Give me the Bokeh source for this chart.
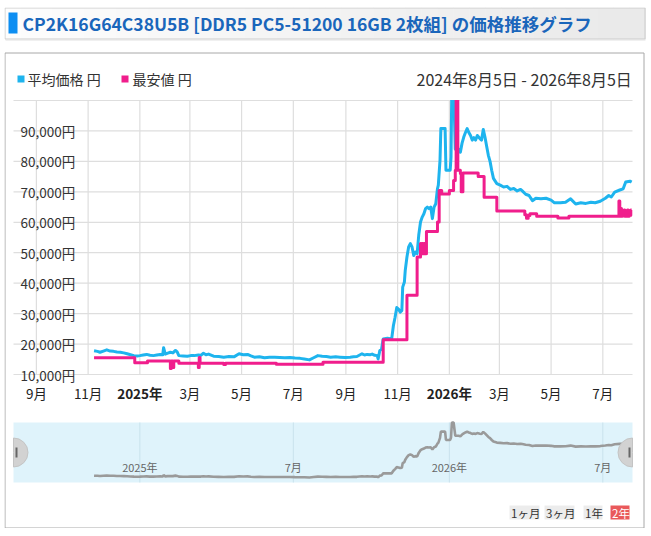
import numpy as np
import pandas as pd
from bokeh.plotting import figure
from bokeh.layouts import column
from bokeh.models import Range1d, ColumnDataSource
from bokeh.core.properties import value
from bokeh.embed import file_html
from bokeh.resources import INLINE

# ---------------- data ----------------
TITLE = "CP2K16G64C38U5B [DDR5 PC5-51200 16GB 2枚組] の価格推移グラフ"
SERIES_NAMES = ["平均価格 円", "最安値 円"]
DATE_RANGE_TEXT = "2024年8月5日 - 2026年8月5日"
RANGE_START = "2024-08-05"
RANGE_END = "2026-08-05"

avg_dates = [
    "2024-11-08", "2024-11-12", "2024-11-15", "2024-11-19", "2024-11-23", "2024-11-27",
    "2024-12-01", "2024-12-05", "2024-12-09", "2024-12-13", "2024-12-17", "2024-12-21",
    "2024-12-25", "2024-12-29", "2025-01-01", "2025-01-05", "2025-01-09", "2025-01-13",
    "2025-01-17", "2025-01-21", "2025-01-25", "2025-01-28", "2025-01-29", "2025-01-31",
    "2025-02-03", "2025-02-06", "2025-02-09", "2025-02-12", "2025-02-14", "2025-02-16",
    "2025-02-21", "2025-02-26", "2025-03-02", "2025-03-06", "2025-03-11", "2025-03-14",
    "2025-03-17", "2025-03-20", "2025-03-23", "2025-03-29", "2025-04-04", "2025-04-10",
    "2025-04-16", "2025-04-22", "2025-04-28", "2025-05-03", "2025-05-08", "2025-05-12",
    "2025-05-16", "2025-05-22", "2025-05-28", "2025-06-03", "2025-06-09", "2025-06-15",
    "2025-06-21", "2025-06-27", "2025-07-03", "2025-07-09", "2025-07-14", "2025-07-20",
    "2025-07-25", "2025-07-30", "2025-08-04", "2025-08-09", "2025-08-14", "2025-08-20",
    "2025-08-25", "2025-08-31", "2025-09-06", "2025-09-10", "2025-09-14", "2025-09-20",
    "2025-09-23", "2025-09-26", "2025-09-30", "2025-10-02", "2025-10-05", "2025-10-08",
    "2025-10-09", "2025-10-11", "2025-10-13", "2025-10-15", "2025-10-20", "2025-10-25",
    "2025-10-27", "2025-10-29", "2025-10-31", "2025-11-02", "2025-11-04", "2025-11-06",
    "2025-11-07", "2025-11-09", "2025-11-10", "2025-11-12", "2025-11-14", "2025-11-16",
    "2025-11-18", "2025-11-20", "2025-11-22", "2025-11-24", "2025-11-26", "2025-11-28",
    "2025-11-30", "2025-12-02", "2025-12-04", "2025-12-06", "2025-12-08", "2025-12-10",
    "2025-12-12", "2025-12-14", "2025-12-16", "2025-12-18", "2025-12-19", "2025-12-21",
    "2025-12-22", "2025-12-27", "2025-12-28", "2026-01-02", "2026-01-03", "2026-01-04",
    "2026-01-06", "2026-01-08", "2026-01-12", "2026-01-14", "2026-01-16", "2026-01-18",
    "2026-01-20", "2026-01-22", "2026-01-24", "2026-01-26", "2026-01-28", "2026-01-30",
    "2026-02-01", "2026-02-03", "2026-02-06", "2026-02-08", "2026-02-10", "2026-02-12",
    "2026-02-14", "2026-02-16", "2026-02-18", "2026-02-20", "2026-02-22", "2026-02-26",
    "2026-03-02", "2026-03-06", "2026-03-10", "2026-03-14", "2026-03-18", "2026-03-22",
    "2026-03-26", "2026-03-28", "2026-04-01", "2026-04-05", "2026-04-09", "2026-04-13",
    "2026-04-19", "2026-04-25", "2026-05-01", "2026-05-05", "2026-05-12", "2026-05-18",
    "2026-05-24", "2026-05-30", "2026-06-05", "2026-06-11", "2026-06-17", "2026-06-22",
    "2026-06-28", "2026-07-04", "2026-07-08", "2026-07-11", "2026-07-15", "2026-07-21",
    "2026-07-25", "2026-07-28", "2026-08-02", "2026-08-04",
]
avg_values = [
    17800, 17600, 17300, 17700, 18100, 17700,
    17600, 17400, 17300, 17100, 16800, 16500,
    16200, 16100, 16200, 16400, 16600, 16300,
    16200, 16400, 16600, 16500, 18800, 16700,
    17000, 17300, 17100, 17900, 17400, 16200,
    16100, 16000, 16200, 16200, 16400, 16300,
    17000, 16500, 16700, 16000, 15900, 15700,
    15900, 15800, 16800, 16500, 16600, 16100,
    15700, 15800, 15500, 15700, 15700, 15600,
    15500, 15600, 15400, 15300, 15100, 14800,
    15500, 16200, 16000, 15900, 15700, 15800,
    15700, 15600, 15700, 15800, 15900, 16800,
    16400, 16600, 16500, 16700, 16300, 16200,
    15100, 17900, 18200, 21700, 21900, 21700,
    26000, 28800, 32000, 31500, 30500, 31000,
    38700, 40400, 44200, 48600, 51900, 53000,
    51900, 49100, 50200, 49700, 56000, 60100,
    61700, 62800, 64500, 65000, 64500, 65000,
    61200, 65000, 66100, 71000, 72200, 80400,
    90800, 90800, 77100, 77100, 81500, 106000,
    106000, 84000, 84000, 83000, 86000, 88000,
    89500, 90800, 89500, 88500, 87000, 87800,
    87000, 88500, 87500, 87000, 90500, 88000,
    85000, 82000, 80000, 77000, 74400, 72700,
    72200, 71600, 71800, 70800, 71100, 70300,
    70800, 70300, 69200, 68800, 67100, 67900,
    67700, 67900, 67300, 66400, 66400, 66600,
    67700, 66000, 66400, 66200, 66600, 66400,
    66900, 67900, 68800, 68300, 69900, 70600,
    71000, 73200, 73500, 73200,
]

min_dates = [
    "2024-11-08", "2024-12-26", "2025-01-10", "2025-02-06", "2025-02-07", "2025-02-09",
    "2025-02-10", "2025-02-16", "2025-03-11", "2025-03-12", "2025-03-13", "2025-04-10",
    "2025-04-12", "2025-06-11", "2025-08-05", "2025-10-15", "2025-11-12", "2025-11-24",
    "2025-11-28", "2025-11-29", "2025-11-30", "2025-12-01", "2025-12-02", "2025-12-03",
    "2025-12-05", "2025-12-18", "2025-12-20", "2025-12-23", "2026-01-01", "2026-01-06",
    "2026-01-08", "2026-01-09", "2026-01-11", "2026-01-14", "2026-01-15", "2026-01-17",
    "2026-02-04", "2026-02-11", "2026-02-26", "2026-03-31", "2026-04-02", "2026-04-04",
    "2026-04-06", "2026-04-14", "2026-05-09", "2026-05-22", "2026-07-20", "2026-07-21",
    "2026-07-22", "2026-07-23", "2026-07-24", "2026-07-25", "2026-07-26", "2026-07-27",
    "2026-07-28", "2026-07-29", "2026-07-30", "2026-07-31", "2026-08-01", "2026-08-02",
    "2026-08-03", "2026-08-04",
]
min_values = [
    15500, 13900, 14400, 12000, 14400, 12300,
    14400, 13700, 12300, 15600, 13700, 13300,
    13700, 13400, 14050, 21400, 36000, 48600,
    53000, 49700, 53000, 49700, 53000, 49700,
    57000, 60100, 70400, 69300, 70400, 73700,
    77100, 105000, 77100, 76000, 70000, 76200,
    75000, 68200, 63700, 62500, 61300, 62200,
    62800, 62000, 61400, 62000, 67000, 62000,
    64500, 62000, 63800, 62200, 64000, 62000,
    63500, 62000, 64000, 62000, 63800, 62300,
    64000, 64000,
]

x_tick_dates = ["2024-09-01", "2024-11-01", "2025-01-01", "2025-03-01", "2025-05-01", "2025-07-01",
                "2025-09-01", "2025-11-01", "2026-01-01", "2026-03-01", "2026-05-01", "2026-07-01"]
x_tick_labels = ["9月", "11月", "2025年", "3月", "5月", "7月",
                 "9月", "11月", "2026年", "3月", "5月", "7月"]
x_tick_is_year = [False, False, True, False, False, False,
                  False, False, True, False, False, False]

y_tick_values = [10000, 20000, 30000, 40000, 50000, 60000, 70000, 80000, 90000]
y_tick_labels = ["10,000円", "20,000円", "30,000円", "40,000円", "50,000円",
                 "60,000円", "70,000円", "80,000円", "90,000円"]
y_grid_values = y_tick_values + [100000]

nav_tick_dates = ["2025-01-01", "2025-07-01", "2026-01-01", "2026-07-01"]
nav_tick_labels = ["2025年", "7月", "2026年", "7月"]

button_labels = ["1ヶ月", "3ヶ月", "1年", "2年"]
selected_button = "2年"

# ---------------- layout constants (pixels, origin at top-left of the figure) ----------------
FONT = value("Noto Sans CJK JP")
BLUE = "#1eb4ee"
PINK = "#f01e8c"
GRID = "#dedede"
TEXT = "#333333"
W, H = 642, 521
PANEL_TOP = 45
PL, PR = 9, 628            # plot left / right
PT, PB = 93, 367           # plot top (100,000) / bottom (10,000)
NT, NB = 415, 475          # navigator band top / bottom
Y_MIN, Y_MAX = 10000, 100000
NAV_LO = 6500
NAV_HI = max(avg_values)

d0 = pd.Timestamp(RANGE_START)
d1 = pd.Timestamp(RANGE_END)
dpp = (d1 - d0) / (PR - PL)          # time per pixel
avg_x = pd.to_datetime(avg_dates)
min_x = pd.to_datetime(min_dates)
xt = pd.to_datetime(x_tick_dates)
nt = pd.to_datetime(nav_tick_dates)

vpp = (Y_MAX - Y_MIN) / (PB - PT)    # value per pixel (main plot)
npp = (NAV_HI - NAV_LO) / (NB - NT)  # value per pixel (navigator)

p = figure(width=W, height=H, x_range=Range1d(0, W), y_range=Range1d(H, 0),
           x_axis_location=None, y_axis_location=None,
           toolbar_location=None, output_backend="svg", outline_line_color=None,
           min_border=0, min_border_left=0, min_border_right=0,
           min_border_top=0, min_border_bottom=0)
p.grid.visible = False
p.extra_x_ranges = {"t": Range1d(d0 - PL * dpp, d1 + (W - PR) * dpp)}
p.extra_y_ranges = {
    "v": Range1d(Y_MIN - (H - PB) * vpp, Y_MAX + PT * vpp),
    "n": Range1d(NAV_LO - (H - NB) * npp, NAV_HI + NT * npp),
}
M = dict(x_range_name="t", y_range_name="v")
N = dict(x_range_name="t", y_range_name="n")

# ---------------- title box ----------------
n_bands = 40
edges = np.linspace(0, W - 1, n_bands + 1)
shades = np.linspace(253, 234, n_bands).astype(int)
p.quad(left=edges[:-1], right=edges[1:] + 0.5, top=0, bottom=32,
       fill_color=["#%02x%02x%02x" % (s, s, s) for s in shades], line_color=None)
p.quad(left=0.5, right=W - 1.5, top=0.5, bottom=31.5, fill_color=None,
       line_color="#cdcdcd", line_width=1)
p.segment(x0=[1], y0=[32.5], x1=[W - 1], y1=[32.5], line_color="#e2e2e2", line_width=1)
p.quad(left=4, right=13, top=5, bottom=26, fill_color="#0d8ef2", line_color=None)
p.text(x=[18], y=[16], text=[TITLE], text_baseline="middle", text_align="left",
       text_font=FONT, text_font_size="17.5px", text_font_style="bold", text_color="#1a66bb")

# ---------------- main chart ----------------
ng = len(y_grid_values)
p.segment(x0=[d0] * ng, y0=y_grid_values, x1=[d1] * ng, y1=y_grid_values,
          line_color=GRID, line_width=1.2, **M)
nx = len(xt)
p.segment(x0=xt, y0=[Y_MIN] * nx, x1=xt, y1=[Y_MAX] * nx,
          line_color=GRID, line_width=1.2, **M)
p.text(x=[d0] * len(y_tick_values), y=y_tick_values, text=y_tick_labels,
       x_offset=7, text_baseline="alphabetic", text_align="left",
       text_font=FONT, text_font_size="13.5px", text_color=TEXT, **M)
lbl_y = Y_MIN - 18.5 * vpp
xsrc = ColumnDataSource(dict(
    x=xt, y=[lbl_y] * nx, text=x_tick_labels,
    style=["bold" if b else "normal" for b in x_tick_is_year],
))
p.text(x="x", y="y", text="text", text_font_style="style", source=xsrc,
       text_align="center", text_baseline="middle",
       text_font=FONT, text_font_size="13.5px", text_color="#222222", **M)
p.line(avg_x, avg_values, line_color=BLUE, line_width=3, line_join="round", **M)
p.step(min_x, min_values, mode="after", line_color=PINK, line_width=3, line_join="round", **M)

# white band above the plot area (clips the peaks like the plot frame does)
p.quad(left=1, right=W - 3, top=PANEL_TOP + 1, bottom=PT - 0.6, fill_color="white", line_color=None)

# ---------------- header (legend + date range) ----------------
p.quad(left=[13, 117], right=[20, 124], top=[68, 68], bottom=[75, 75],
       fill_color=[BLUE, PINK], line_color=None)
p.text(x=[23, 128], y=[71.5, 71.5], text=SERIES_NAMES, text_baseline="middle",
       text_font=FONT, text_font_size="14px", text_color=TEXT)
p.text(x=[412], y=[71.5], text=[DATE_RANGE_TEXT], text_baseline="middle",
       text_align="left", text_font=FONT, text_font_size="16px", text_color=TEXT)

# ---------------- navigator ----------------
p.quad(left=[d0], right=[d1], bottom=[NAV_LO], top=[NAV_HI], fill_color="#dff3fb",
       line_color=None, **N)
nn = len(nt)
p.segment(x0=nt, y0=[NAV_LO] * nn, x1=nt, y1=[NAV_HI] * nn,
          line_color="#c9e2ec", line_width=1, **N)
nav_lbl_y = NAV_LO + 16 * npp
p.text(x=nt, y=[nav_lbl_y] * nn, text=nav_tick_labels, text_align="center",
       text_baseline="middle", text_font=FONT, text_font_size="11px",
       text_color="#666666", **N)
p.line(avg_x, avg_values, line_color="#9a9a9a", line_width=2.6, **N)
mid = (NAV_LO + NAV_HI) / 2
p.wedge(x=[d0, d1], y=[mid, mid], radius=14.5, radius_units="screen",
        start_angle=[-np.pi / 2, np.pi / 2], end_angle=[np.pi / 2, 3 * np.pi / 2],
        fill_color="#d2d2d2", line_color="#c4c4c4", **N)
p.rect(x=[d0 + 3 * dpp, d1 - 3 * dpp], y=[mid, mid], width=2, height=10,
       width_units="screen", height_units="screen", fill_color="#666666",
       line_color=None, **N)

# ---------------- range buttons ----------------
b_left = [505, 540, 579, 606]
b_right = [535, 570, 598, 625]
sel = [lbl == selected_button for lbl in button_labels]
p.quad(left=b_left, right=b_right, top=[498] * 4, bottom=[512] * 4,
       fill_color=["#e9595b" if s else "#ececec" for s in sel], line_color=None)
p.text(x=[a + 1.5 for a in b_left], y=[505] * 4, text=button_labels,
       text_align="left", text_baseline="middle", text_font=FONT, text_font_size="11.5px",
       text_color=["#ffffff" if s else TEXT for s in sel])

# ---------------- panel border ----------------
p.quad(left=0.5, right=W - 2.5, top=PANEL_TOP + 0.5, bottom=H - 0.5, fill_color=None,
       line_color="#a8a8a8", line_width=1)

root = column(p, styles={"margin-left": "4px", "margin-top": "7px"})
open("out.html", "w").write(file_html(root, INLINE))
